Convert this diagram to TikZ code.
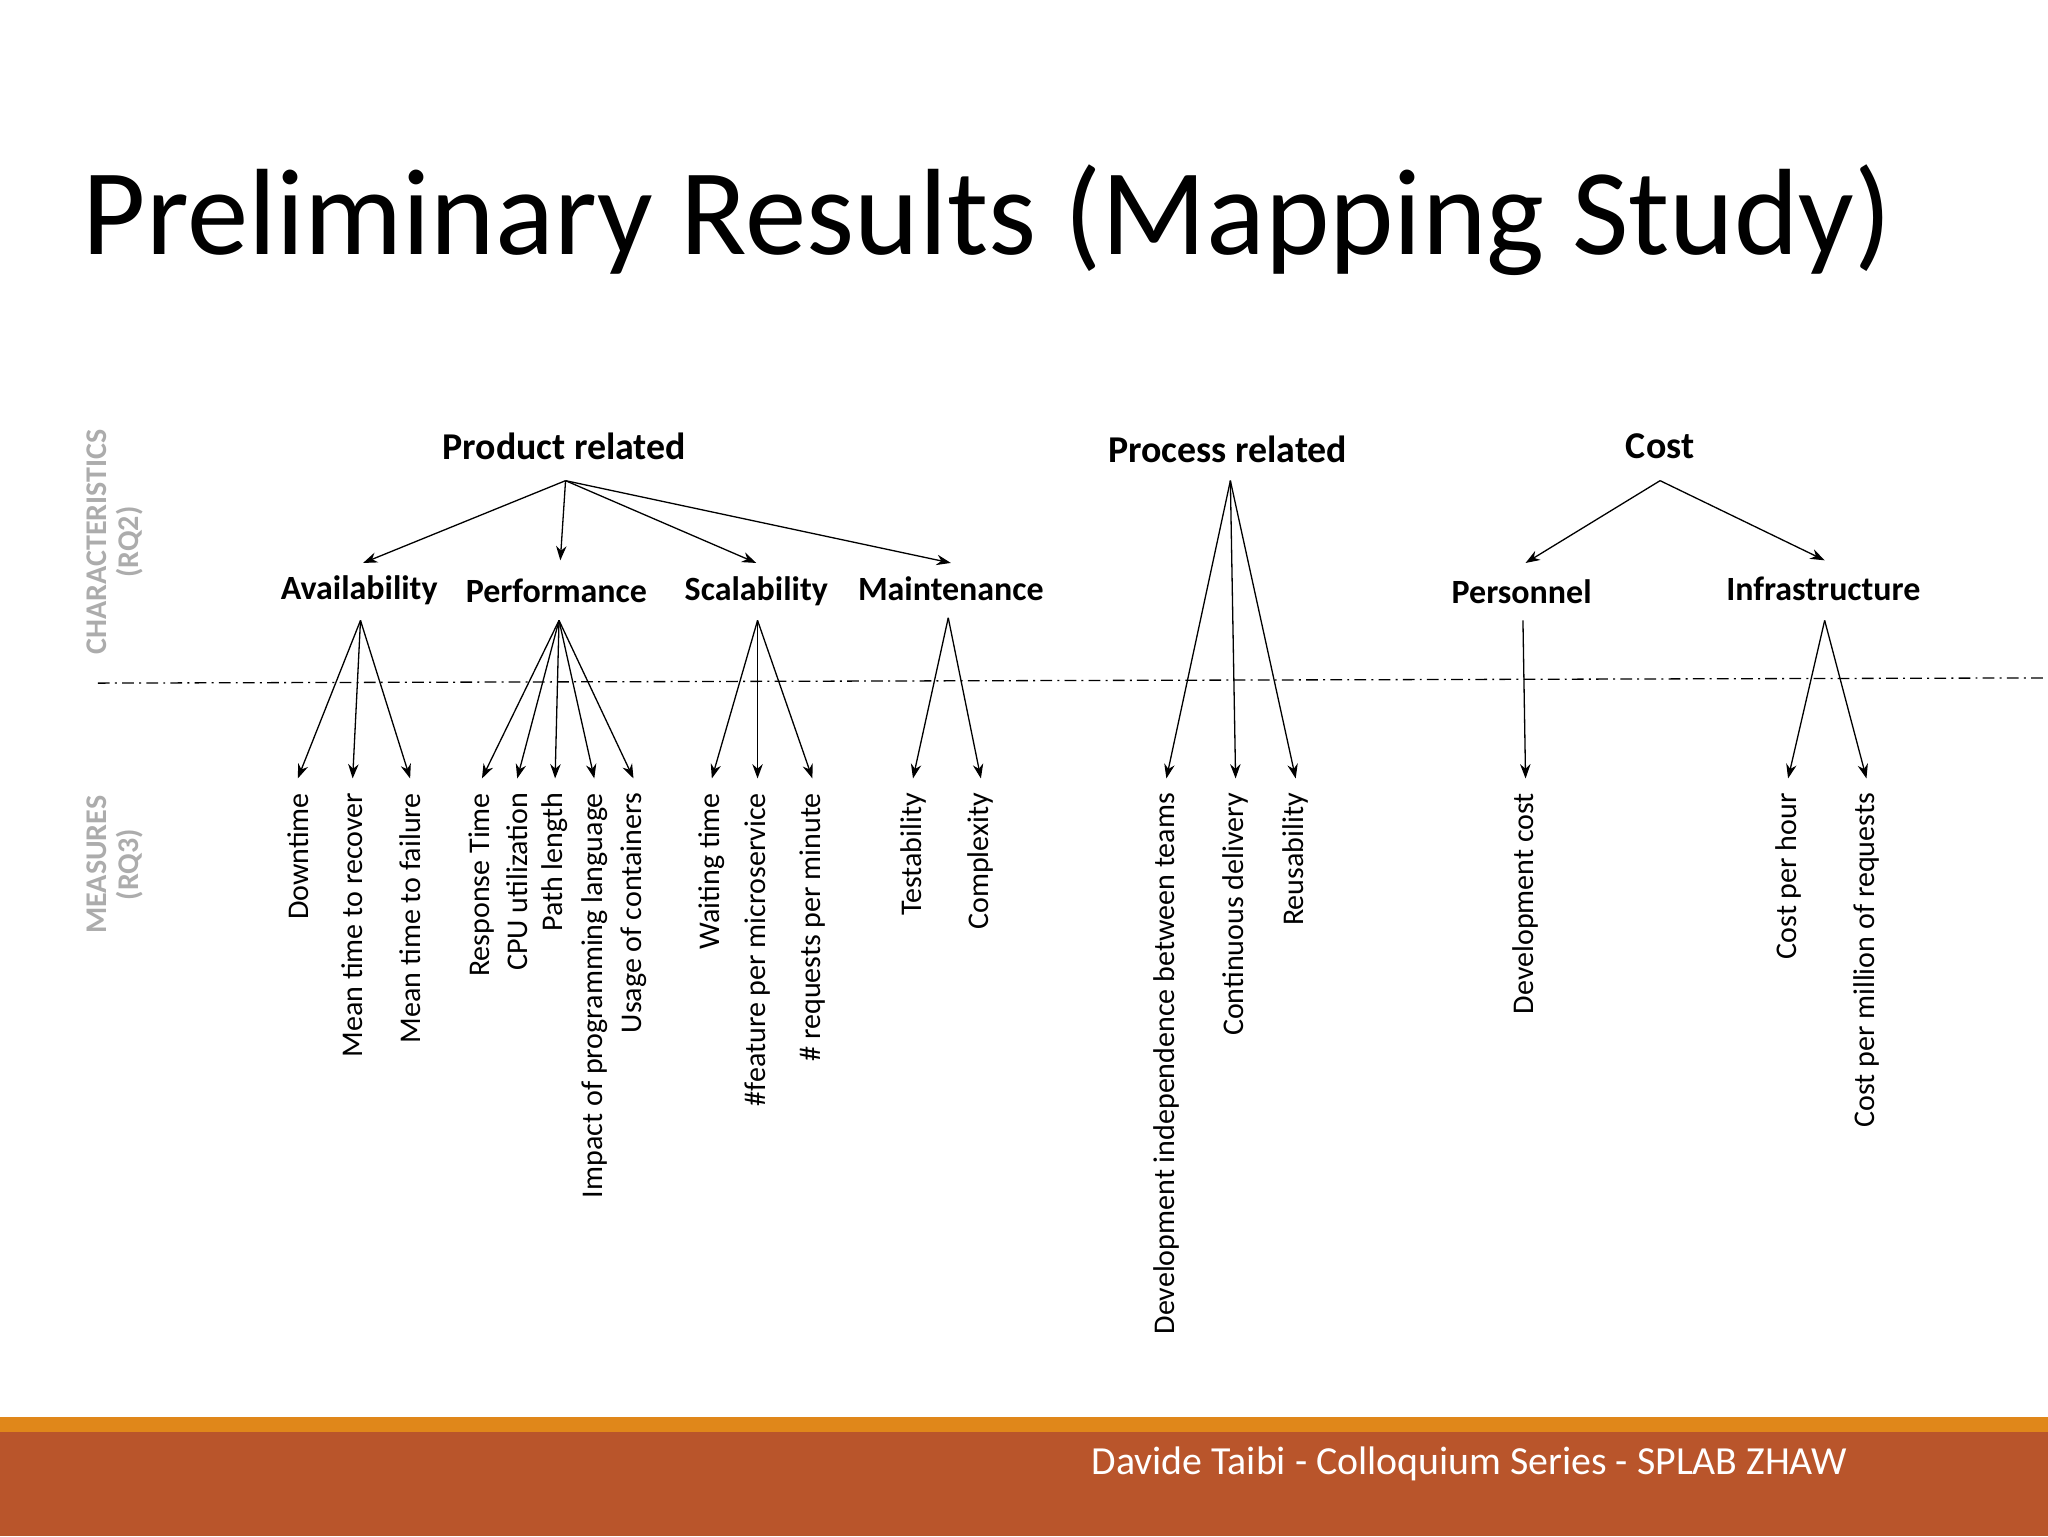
\documentclass[tikz,border=0pt]{standalone}
\usepackage{fontspec}
\setmainfont{Carlito}
\usetikzlibrary{arrows.meta}
\definecolor{barorange}{HTML}{E0871A}
\definecolor{barrust}{HTML}{B9552B}
\begin{document}
\begin{tikzpicture}[x=1pt,y=-1pt,
  cat/.style={font=\fontsize{29}{32}\selectfont\bfseries, inner sep=2pt},
  subcat/.style={font=\fontsize{26}{30}\selectfont\bfseries, inner sep=2pt},
  meas/.style={font=\fontsize{23}{26}\selectfont, rotate=90, anchor=east, inner sep=0pt},
  side/.style={font=\fontsize{23}{25}\selectfont\bfseries, text=gray!65, rotate=90, align=center},
  arr/.style={-{Stealth[length=11pt,width=8pt]}, line width=1pt}]
\useasboundingbox (0,0) rectangle (1568,1176);
\fill[white] (0,0) rectangle (1568,1176);
\node[anchor=base west, inner sep=0pt, font=\fontsize{94}{100}\selectfont] (title) at (63,195) {Preliminary Results (Mapping Study)};
\node[side] (s1) at (88,415) {CHARACTERISTICS\\(RQ2)};
\node[side] (s2) at (88,662) {MEASURES\\(RQ3)};
\node[cat] (prod) at (432,342) {Product related};
\node[cat] (proc) at (940,344) {Process related};
\node[cat] (cost) at (1271,342) {Cost};
\node[subcat] (av) at (275,452) {Availability};
\node[subcat] (pe) at (426,452) {Performance};
\node[subcat] (sc) at (579,453) {Scalability};
\node[subcat] (ma) at (728,451) {Maintenance};
\node[subcat] (pn) at (1165,453) {Personnel};
\node[subcat] (in) at (1396,451) {Infrastructure};
\coordinate (prodS) at (433,368);
\coordinate (procS) at (942,368);
\coordinate (costS) at (1271,368);
\coordinate (avS) at (276,475);
\coordinate (peS) at (428,475);
\coordinate (scS) at (580,475);
\coordinate (maS) at (726,473);
\coordinate (pnS) at (1166,475);
\coordinate (inS) at (1397,475);
\draw[arr] (prodS) -- (278,431);
\draw[arr] (prodS) -- (429,429);
\draw[arr] (prodS) -- (579,431);
\draw[arr] (prodS) -- (728,431);
\draw[arr] (costS) -- (1168,431);
\draw[arr] (costS) -- (1397,429);
\draw[line width=1pt, dash pattern=on 9pt off 4pt on 1.5pt off 4pt] (75,523) -- (1568,519);
\foreach \n/\x/\s/\t in {
 m1/228/avS/Downtime, m2/270/avS/Mean time to recover, m3/314/avS/Mean time to failure,
 m4/369/peS/Response Time, m5/396/peS/CPU utilization, m6/425/peS/Path length,
 m7/455/peS/Impact of programming language, m8/485/peS/Usage of containers,
 m9/545/scS/Waiting time, m10/580/scS/\#feature per microservice, m11/622/scS/\# requests per minute,
 m12/699/maS/Testability, m13/751/maS/Complexity,
 m14/893/procS/Development independence between teams, m15/946/procS/Continuous delivery, m16/992/procS/Reusability,
 m17/1168/pnS/Development cost, m18/1369/inS/Cost per hour, m19/1429/inS/Cost per million of requests}{
 \node[meas] (\n) at (\x,607) {\t};
 \draw[arr] (\s) -- ([yshift=11pt]\n.east);
}
\fill[barorange] (0,1085) rectangle (1568,1096);
\fill[barrust] (0,1096) rectangle (1568,1176);
\node[text=white, font=\fontsize{30.5}{32}\selectfont] (foot) at (1125,1121) {Davide Taibi - Colloquium Series - SPLAB ZHAW};
\end{tikzpicture}
\end{document}
